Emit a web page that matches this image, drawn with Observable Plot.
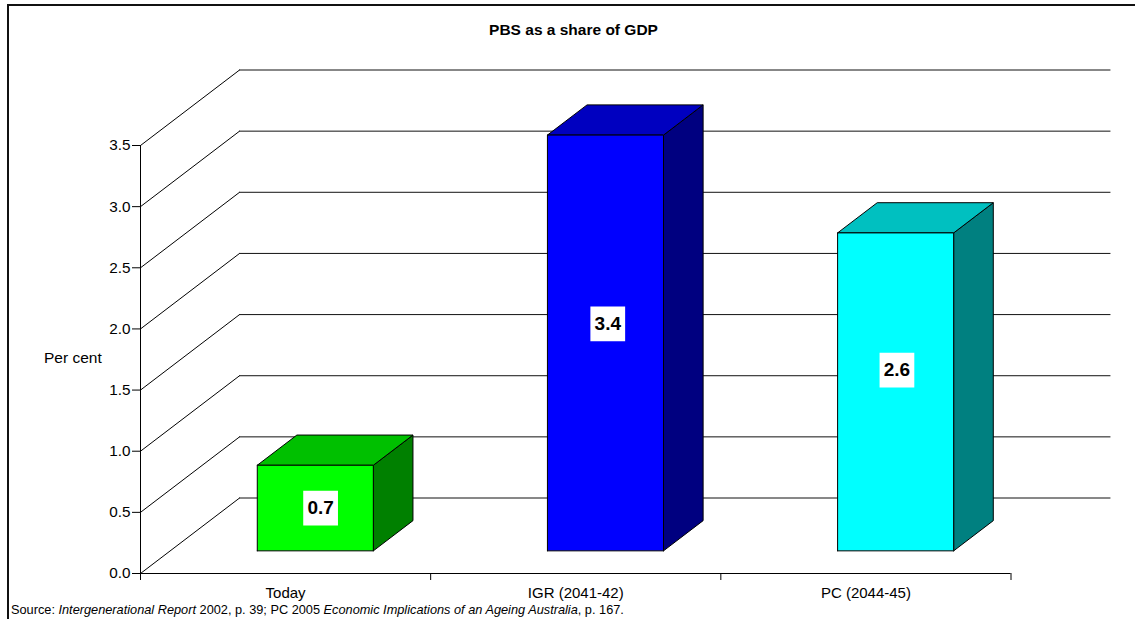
<!DOCTYPE html>
<html>
<head>
<meta charset="utf-8">
<script src="https://cdn.jsdelivr.net/npm/d3@7"></script>
<script src="https://cdn.jsdelivr.net/npm/@observablehq/plot@0.6"></script>
<style>
  html, body { margin: 0; padding: 0; background: #fff; overflow: hidden; }
  #wrap { position: relative; width: 1135px; height: 619px; overflow: hidden; }
  #frame { position: absolute; left: 7px; top: 4px; right: 0; bottom: 0; border-left: 2px solid #111; border-top: 2px solid #111; }
  #title { position: absolute; left: 373.5px; width: 400px; top: 21px; text-align: center; font: bold 15.5px "Liberation Sans", Arial, sans-serif; color: #000; }
  #source { position: absolute; left: 11px; top: 602px; white-space: nowrap; font: 12.75px "Liberation Sans", Arial, sans-serif; color: #000; }
  #chart { position: absolute; left: 0; top: 0; }
</style>
</head>
<body>
<div id="wrap">
  <div id="frame"></div>
  <div id="chart"></div>
  <div id="title">PBS as a share of GDP</div>
  <div id="source">Source: <i>Intergenerational Report</i> 2002, p. 39; PC 2005 <i>Economic Implications of an Ageing Australia</i>, p. 167.</div>
</div>
<script>
const categories = ["Today", "IGR (2041-42)", "PC (2044-45)"];
const values = [0.7, 3.4, 2.6];
const yTicks = [0, 0.5, 1, 1.5, 2, 2.5, 3, 3.5];
const frontColors = ["#00ff00", "#0000ff", "#00ffff"];
const sideColors = ["#008000", "#000080", "#008080"];
const topColors = ["#00c000", "#0000c0", "#00c0c0"];
const labelShiftX = [5.3, 2.3, 1.3];
const labelShiftY = [0, -19, -21.7];

// Oblique projection: depth 0 is the front of the chart, depth 1 the back wall.
const depthX = 99 / 290, depthY = 75.5 / 122.3;
const barWidth = 0.4, depthFront = 0.3, depthBack = 0.7;
const pt = (cat, val, depth) => ({x: cat + depth * depthX, y: val + depth * depthY});

const diagonals = yTicks.map(v => [pt(0, v, 0), pt(0, v, 1)]);
const backLines = yTicks.map(v => [pt(0, v, 1), pt(3, v, 1)]);

const barMarks = values.flatMap((v, i) => {
  const c0 = i + 0.5 - barWidth / 2, c1 = i + 0.5 + barWidth / 2;
  const front = [pt(c0, 0, depthFront), pt(c1, 0, depthFront), pt(c1, v, depthFront), pt(c0, v, depthFront), pt(c0, 0, depthFront)];
  const side = [pt(c1, 0, depthFront), pt(c1, 0, depthBack), pt(c1, v, depthBack), pt(c1, v, depthFront), pt(c1, 0, depthFront)];
  const top = [pt(c0, v, depthFront), pt(c1, v, depthFront), pt(c1, v, depthBack), pt(c0, v, depthBack), pt(c0, v, depthFront)];
  const face = (data, fill) => Plot.line(data, {x: "x", y: "y", fill, stroke: "#000", strokeWidth: 1, strokeLinejoin: "miter"});
  return [face(side, sideColors[i]), face(top, topColors[i]), face(front, frontColors[i])];
});

const labels = values.map((v, i) => ({
  ...pt(i + 0.5, v / 2, depthFront),
  text: v.toFixed(1),
  dx: labelShiftX[i],
  dy: labelShiftY[i]
}));
const labelMarks = labels.flatMap(d => [
  Plot.dot([d], {x: "x", y: "y", symbol: "square", r: 19.6, fill: "#fff", stroke: "none", dx: d.dx, dy: d.dy}),
  Plot.text([d], {x: "x", y: "y", text: "text", fontWeight: "bold", fontSize: 19, fill: "#000", dx: d.dx, dy: d.dy})
]);

const chart = Plot.plot({
  width: 1135,
  height: 619,
  marginLeft: 140,
  marginRight: 124.5,
  marginTop: 145,
  marginBottom: 46,
  style: {background: "transparent", fontFamily: "'Liberation Sans', Arial, sans-serif", fontSize: "15px", color: "#000"},
  x: {type: "linear", domain: [0, 3]},
  y: {type: "linear", domain: [0, 3.5]},
  marks: [
    ...diagonals.map(d => Plot.line(d, {x: "x", y: "y", stroke: "#000", strokeWidth: 1})),
    ...backLines.map(d => Plot.line(d, {x: "x", y: "y", stroke: "#111", strokeWidth: 1})),
    Plot.ruleX([0], {y1: 0, y2: 3.5, stroke: "#000"}),
    Plot.ruleY([0], {x1: 0, x2: 3, stroke: "#000"}),
    Plot.axisY({ticks: yTicks, tickSize: 8, tickPadding: 2, tickFormat: d3.format(".1f"), label: null, stroke: "#000", fill: "#000", fontSize: 15.3}),
    Plot.axisX({ticks: [0, 1, 2, 3], tickSize: 7, tickFormat: () => "", label: null, stroke: "#000"}),
    Plot.axisX({ticks: [0.5, 1.5, 2.5], tickSize: 0, tickPadding: 14, tickFormat: d => categories[d - 0.5], label: null, fill: "#000", fontSize: 15}),
    Plot.text(["Per cent"], {x: 0, y: 1.76, dx: -96.5, textAnchor: "start", fill: "#000", fontSize: 15.5}),
    ...barMarks,
    ...labelMarks
  ]
});
document.getElementById("chart").appendChild(chart);
</script>
</body>
</html>
